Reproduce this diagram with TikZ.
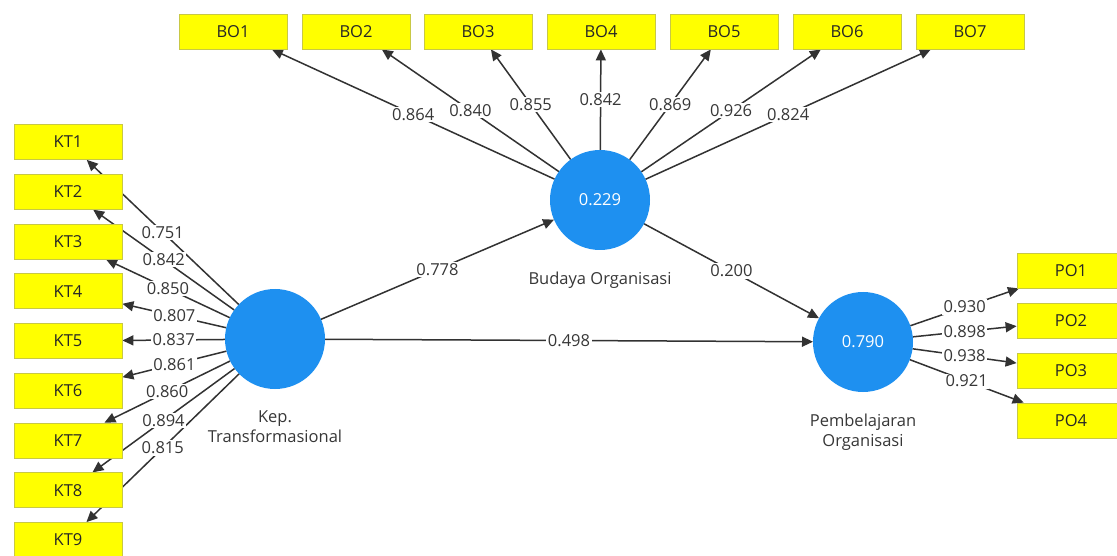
\documentclass[tikz,border=0pt]{standalone}
\usepackage{fontspec}
\setmainfont{Open Sans}
\usetikzlibrary{arrows.meta}
\definecolor{lvblue}{RGB}{30,144,240}
\definecolor{indyel}{RGB}{255,255,0}
\definecolor{indborder}{RGB}{200,200,70}
\definecolor{edgegray}{RGB}{50,50,50}
\definecolor{txtgray}{RGB}{55,55,55}
\pgfdeclarelayer{bg}
\pgfdeclarelayer{edges}
\pgfdeclarelayer{labels}
\pgfsetlayers{bg,edges,labels,main}
\begin{document}
\begin{tikzpicture}[x=1pt,y=-1pt,
  ind/.style={draw=indborder, fill=indyel, line width=0.8pt, minimum width=108pt,
    minimum height=35pt, inner sep=0pt, font=\fontsize{16.5}{19}\selectfont, text=black!85},
  lv/.style={circle, fill=lvblue, minimum size=100pt, inner sep=0pt, outer sep=0pt,
    text=white, font=\fontsize{16.5}{19}\selectfont},
  lvname/.style={align=center, font=\fontsize{16.5}{20}\selectfont, text=txtgray},
  link/.style={draw=edgegray, line width=1.5pt, -{Triangle[length=11pt,width=10pt]}},
  lbl/.style={fill=white, inner sep=1.5pt, font=\fontsize{16.5}{19}\selectfont, text=txtgray}
]
\clip (0,0) rectangle (1117,556);
\begin{pgfonlayer}{bg}
\fill[white] (0,0) rectangle (1117,556);
\end{pgfonlayer}

% latent variables
\node[lv] (kt) at (275,339) {};
\node[lv] (bo) at (600,200) {0.229};
\node[lv] (po) at (863,342) {0.790};
\node[lvname] (ktn) at (275,427) {Kep.\\Transformasional};
\node[lvname] (bon) at (600,280) {Budaya Organisasi};
\node[lvname] (pon) at (863,432) {Pembelajaran\\Organisasi};

% indicators
\foreach \i/\y in {1/142,2/191.75,3/241.5,4/291.25,5/341,6/390.75,7/440.5,8/490.25,9/540}
  \node[ind] (kt\i) at (68,\y) {KT\i};
\foreach \i/\x in {1/233,2/356,3/478,4/601,5/724,6/847,7/970}
  \node[ind] (bo\i) at (\x,31.5) {BO\i};
\foreach \i/\y in {1/270.5,2/320.5,3/370.5,4/420.5}
  \node[ind] (po\i) at (1071,\y) {PO\i};

% connectors
\begin{pgfonlayer}{edges}
\foreach \i in {1,...,9} \draw[link] (kt) -- (kt\i);
\foreach \i in {1,...,7} \draw[link] (bo) -- (bo\i);
\foreach \i in {1,...,4} \draw[link] (po) -- (po\i);
\draw[link] (kt) -- (bo);
\draw[link] (kt) -- (po);
\draw[link] (bo) -- (po);
\end{pgfonlayer}

% connector labels
\begin{pgfonlayer}{labels}
\foreach \i/\v in {1/0.751,2/0.842,3/0.850,4/0.807,5/0.837,6/0.861,7/0.860,8/0.894,9/0.815}
  \path (kt) -- node[lbl] (lkt\i) {\v} (kt\i);
\foreach \i/\v in {1/0.864,2/0.840,3/0.855,4/0.842,5/0.869,6/0.926,7/0.824}
  \path (bo) -- node[lbl] (lbo\i) {\v} (bo\i);
\foreach \i/\v in {1/0.930,2/0.898,3/0.938,4/0.921}
  \path (po) -- node[lbl] (lpo\i) {\v} (po\i);
\path (kt) -- node[lbl] (lktbo) {0.778} (bo);
\path (kt) -- node[lbl] (lktpo) {0.498} (po);
\path (bo) -- node[lbl] (lbopo) {0.200} (po);
\end{pgfonlayer}
\end{tikzpicture}
\end{document}
